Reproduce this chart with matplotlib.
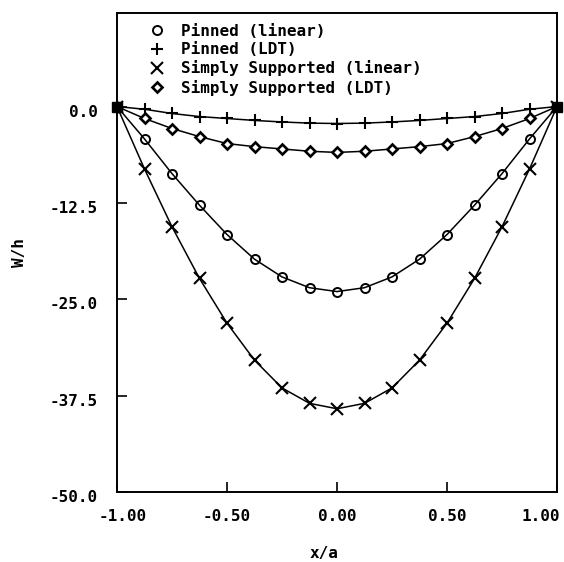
import matplotlib
matplotlib.use("Agg")
import matplotlib.pyplot as plt
from matplotlib.lines import Line2D
import matplotlib.transforms as mtransforms

x_a = [-1.0, -0.875, -0.75, -0.625, -0.5, -0.375, -0.25, -0.125, 0.0,
       0.125, 0.25, 0.375, 0.5, 0.625, 0.75, 0.875, 1.0]
pinned_linear = [0, -4.2, -8.7, -12.8, -16.6, -19.8, -22.1, -23.5, -24.0,
                 -23.5, -22.1, -19.8, -16.6, -12.8, -8.7, -4.2, 0]
pinned_ldt = [0, -0.35, -0.9, -1.3, -1.55, -1.8, -2.0, -2.15, -2.2,
              -2.15, -2.0, -1.8, -1.55, -1.3, -0.9, -0.35, 0]
ss_linear = [0, -8.1, -15.6, -22.3, -28.1, -32.9, -36.5, -38.5, -39.2,
             -38.5, -36.5, -32.9, -28.1, -22.3, -15.6, -8.1, 0]
ss_ldt = [0, -1.55, -2.85, -3.9, -4.8, -5.2, -5.5, -5.8, -5.95,
          -5.8, -5.5, -5.2, -4.8, -3.9, -2.85, -1.55, 0]

labels = ["Pinned (linear)", "Pinned (LDT)", "Simply Supported (linear)",
          "Simply Supported (LDT)"]
xticks = [-1.0, -0.5, 0.0, 0.5, 1.0]
xticklabels = ["-1.00", "-0.50", "0.00", "0.50", "1.00"]
yticks = [0.0, -12.5, -25.0, -37.5, -50.0]
yticklabels = ["0.0", "-12.5", "-25.0", "-37.5", "-50.0"]

plt.rcParams['font.family'] = ['DejaVu Sans Mono']
FS = 11.5
FW = 'bold'

fig = plt.figure(figsize=(5.64, 5.62), dpi=100)
ax = fig.add_axes([117/564, 1-492/562, 440/564, (492-12.5)/562])

styles = [
    dict(marker='o', ms=6.5, mfc='none', mec='black', mew=1.4),
    dict(marker='+', ms=9, mec='black', mew=1.5),
    dict(marker='x', ms=8, mec='black', mew=1.5),
    dict(marker='D', ms=5, mfc='white', mec='black', mew=1.9),
]
series = [pinned_linear, pinned_ldt, ss_linear, ss_ldt]
handles = []
for ys, st, lab in zip(series, styles, labels):
    ax.plot(x_a, ys, color='black', lw=1.1, **st)
    handles.append(Line2D([], [], ls='none', color='black', **st))
# overlapping end markers appear as solid blobs in the original
ax.plot([x_a[0], x_a[-1]], [ss_linear[0], ss_linear[-1]], ls='none',
        marker='s', ms=7, color='black', clip_on=False, zorder=5)

ax.set_xlim(-1.0, 1.0)
ax.set_ylim(-50.0, 12.2)
ax.set_xticks(xticks)
ax.set_xticklabels(xticklabels, fontsize=FS, fontweight=FW)
ax.set_yticks(yticks)
ax.set_yticklabels(yticklabels, fontsize=FS, fontweight=FW)
ax.tick_params(direction='in', length=7, width=1.2, top=False, right=False)
ax.tick_params(axis='x', pad=12)
ax.tick_params(axis='y', pad=14)
off = mtransforms.ScaledTranslation(0, -4/100, fig.dpi_scale_trans)
for lbl in ax.get_yticklabels():
    lbl.set_transform(lbl.get_transform() + off)
xl = ax.get_xticklabels()
xl[0].set_transform(xl[0].get_transform() +
                    mtransforms.ScaledTranslation(6/100, 0, fig.dpi_scale_trans))
xl[-1].set_horizontalalignment('right')
xl[-1].set_transform(xl[-1].get_transform() +
                     mtransforms.ScaledTranslation(3/100, 0, fig.dpi_scale_trans))
for sp in ax.spines.values():
    sp.set_linewidth(1.4)

ax.set_xlabel("x/a", fontsize=FS, fontweight=FW)
ax.xaxis.set_label_coords(0.47, -0.112)
ax.set_ylabel("W/h", fontsize=FS, fontweight=FW, labelpad=16)

leg = ax.legend(handles, labels, loc='upper left',
                bbox_to_anchor=(149/564, 1-24/562), bbox_transform=fig.transFigure,
                frameon=False, prop=dict(size=FS, weight=FW), handlelength=1.0,
                handletextpad=1.0, labelspacing=0.2, borderpad=0.0,
                borderaxespad=0.0)

fig.savefig("out.png", dpi=100)
